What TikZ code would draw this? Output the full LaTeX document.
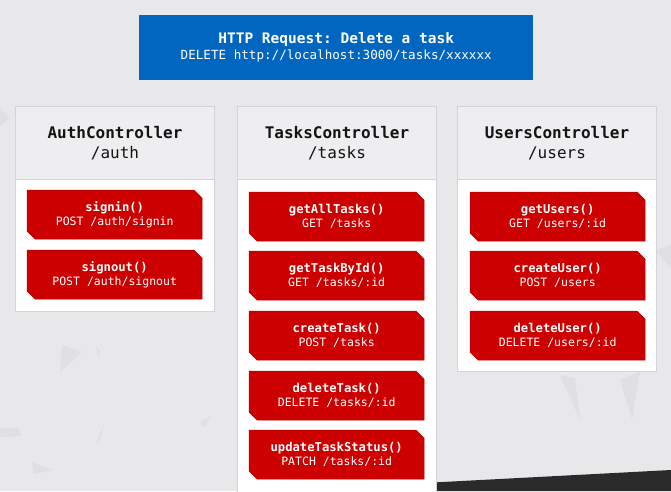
\documentclass[tikz,border=0pt]{standalone}
\usepackage{fontspec}
\setmonofont{DejaVu Sans Mono}
\definecolor{bgc}{HTML}{E8E8EA}
\definecolor{bluec}{HTML}{0066C0}
\definecolor{redc}{HTML}{CC0000}
\definecolor{hdrc}{HTML}{EEEEF0}
\definecolor{linec}{HTML}{D4D4D8}
\definecolor{darkc}{HTML}{2A2A2A}
\definecolor{shardc}{HTML}{E0E0E2}
\tikzset{
  col/.style={draw=linec, line width=1pt, fill=white, minimum width=199pt, anchor=north west, inner sep=0pt},
  hdr/.style={draw=linec, line width=1pt, fill=hdrc, minimum width=199pt, minimum height=73pt, anchor=north west, inner sep=0pt, align=center, font=\ttfamily\fontsize{16}{20}\selectfont, text=black!92},
  btn/.style={minimum width=175pt, minimum height=49pt, inner sep=0pt, anchor=north west, align=center, text=white, font=\ttfamily\fontsize{11.5}{14}\selectfont},
  btnfill/.style={fill=redc, draw=redc!88!black, line width=0.5pt},
  req/.style={fill=bluec, minimum width=394pt, minimum height=65pt, anchor=north west, inner sep=0pt, align=center, text=white, font=\ttfamily\fontsize{12.6}{16}\selectfont},
}
\newcommand{\fn}[1]{{\bfseries\fontsize{12.2}{14}\selectfont #1}}
% \mkbtn{name}{x}{y}{text}
\newcommand{\mkbtn}[4]{%
  \fill[btnfill] (#2,#3) -- ({#2+167},#3) -- ({#2+175},{#3+8}) -- ({#2+175},{#3+49}) -- ({#2+8},{#3+49}) -- (#2,{#3+41}) -- cycle;
  \node[btn] (#1) at (#2,#3) {#4};}
\begin{document}
\begin{tikzpicture}[x=1pt,y=-1pt]
\fill[bgc] (0,0) rectangle (671,491);
\useasboundingbox (0,0) rectangle (671,491);
% faint shards
\fill[shardc] (62,345) -- (82,352) -- (60,372) -- cycle;
\fill[shardc] (100,350) -- (96,346) -- (99,358) -- cycle;
\fill[shardc] (104,423) -- (100,442) -- (96,444) -- cycle;
\fill[shardc] (0,428) -- (18,428) -- (22,436) -- (0,437) -- cycle;
\fill[shardc] (32,462) -- (52,470) -- (34,474) -- cycle;
\fill[shardc] (210,416) -- (200,422) -- (205,428) -- cycle;
\fill[shardc] (0,108) -- (10,118) -- (0,126) -- cycle;
\fill[shardc] (560,375) -- (580,420) -- (575,378) -- cycle;
\fill[shardc] (620,380) -- (632,420) -- (640,372) -- cycle;
\fill[shardc] (655,250) -- (671,245) -- (671,268) -- cycle;
% dark band
\fill[darkc] (290,491) -- (290,490) -- (671,470) -- (671,491) -- cycle;
% request box
\node[req] (req) at (139,15) {{\bfseries\fontsize{14.5}{16}\selectfont HTTP Request: Delete a task}\\DELETE http://localhost:3000/tasks/xxxxxx};
% Auth controller
\node[col, minimum height=205pt] (auth) at (15,106) {};
\node[hdr] (authH) at (15,106) {{\bfseries AuthController}\\/auth};
\mkbtn{signin}{27}{190}{\fn{signin()}\\POST /auth/signin}
\mkbtn{signout}{27}{250}{\fn{signout()}\\POST /auth/signout}
% Tasks controller
\node[col, minimum height=390pt] (tasks) at (237,106) {};
\node[hdr] (tasksH) at (237,106) {{\bfseries TasksController}\\/tasks};
\mkbtn{getall}{249}{192}{\fn{getAllTasks()}\\GET /tasks}
\mkbtn{getbyid}{249}{251}{\fn{getTaskById()}\\GET /tasks/:id}
\mkbtn{create}{249}{311}{\fn{createTask()}\\POST /tasks}
\mkbtn{delete}{249}{371}{\fn{deleteTask()}\\DELETE /tasks/:id}
\mkbtn{update}{249}{430}{\fn{updateTaskStatus()}\\PATCH /tasks/:id}
% Users controller
\node[col, minimum height=265pt] (users) at (457,106) {};
\node[hdr] (usersH) at (457,106) {{\bfseries UsersController}\\/users};
\mkbtn{getusers}{470}{192}{\fn{getUsers()}\\GET /users/:id}
\mkbtn{createuser}{470}{251}{\fn{createUser()}\\POST /users}
\mkbtn{deleteuser}{470}{311}{\fn{deleteUser()}\\DELETE /users/:id}
\end{tikzpicture}
\end{document}
